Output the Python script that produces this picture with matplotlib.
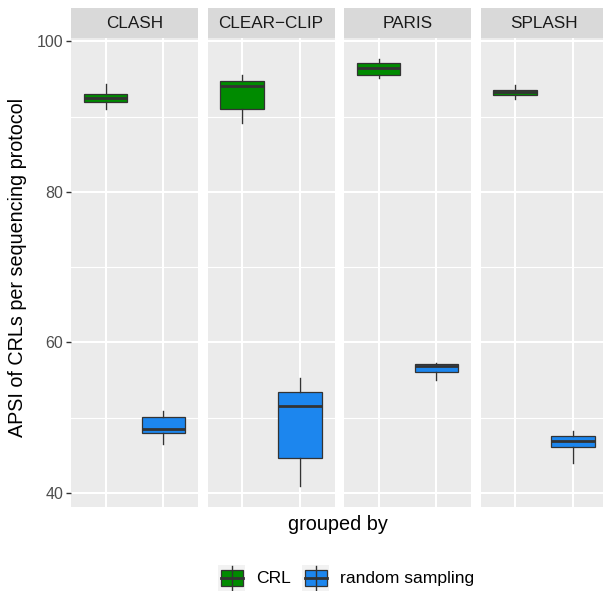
import numpy as np
import matplotlib
matplotlib.use("Agg")
import matplotlib.pyplot as plt
from matplotlib.patches import Rectangle

plt.rcParams['font.family'] = ['Liberation Sans', 'DejaVu Sans']

# facets and groups
protocols = ["CLASH", "CLEAR\u2212CLIP", "PARIS", "SPLASH"]
groups = ["CRL", "random sampling"]
colors = {"CRL": "#008B00", "random sampling": "#1C86EE"}

# boxplot stats: (whislo, q1, median, q3, whishi)
crl_stats = [
    (91.0, 91.94, 92.47, 92.96, 94.29),
    (89.16, 91.01, 94.03, 94.78, 95.49),
    (95.13, 95.58, 96.46, 97.17, 97.61),
    (92.34, 92.87, 93.23, 93.5, 94.16),
]
random_stats = [
    (46.54, 47.92, 48.54, 50.04, 50.88),
    (40.97, 44.69, 51.59, 53.36, 55.26),
    (55.04, 56.02, 56.9, 57.08, 57.25),
    (44.02, 46.14, 46.94, 47.53, 48.23),
]

W, H = 603, 591
fig = plt.figure(figsize=(W / 100, H / 100), dpi=100)

def fpos(x0, y0, w, h):
    # pixel box -> figure fraction
    return [x0 / W, 1 - (y0 + h) / H, w / W, h / H]

all_vals = np.array(crl_stats + random_stats)
lo, hi = all_vals.min(), all_vals.max()
pad = (hi - lo) * 0.05
ylim = (lo - pad, hi + pad)

panel_left = [71, 207.5, 344, 480.5]
panel_w = 127
panel_top, panel_bot = 38, 507
strip_top = 8

for i, name in enumerate(protocols):
    ax = fig.add_axes(fpos(panel_left[i], panel_top, panel_w, panel_bot - panel_top))
    ax.set_facecolor("#EBEBEB")
    for s in ax.spines.values():
        s.set_visible(False)
    ax.set_xlim(0.4, 2.6)
    ax.set_ylim(*ylim)
    ax.set_yticks([40, 60, 80, 100])
    ax.set_yticks([50, 70, 90], minor=True)
    ax.set_xticks([1, 2])
    ax.grid(True, which="major", color="white", lw=1.5)
    ax.grid(True, which="minor", axis="y", color="white", lw=0.8)
    ax.set_axisbelow(True)
    ax.tick_params(axis="x", length=0, labelbottom=False)
    ax.tick_params(axis="y", which="minor", length=0)
    if i == 0:
        ax.tick_params(axis="y", length=3.5, width=1, color="#333333",
                       labelsize=11.5, labelcolor="#4D4D4D", pad=2)
    else:
        ax.tick_params(axis="y", length=0, labelleft=False)

    for j, (g, st) in enumerate(zip(groups, [crl_stats[i], random_stats[i]])):
        whislo, q1, med, q3, whishi = st
        stats = [dict(whislo=whislo, q1=q1, med=med, q3=q3, whishi=whishi, fliers=[])]
        ax.bxp(stats, positions=[j + 1], widths=0.75, patch_artist=True,
               showcaps=False, manage_ticks=False,
               boxprops=dict(facecolor=colors[g], edgecolor="#333333", lw=0.9),
               medianprops=dict(color="#333333", lw=2),
               whiskerprops=dict(color="#333333", lw=1))

    sax = fig.add_axes(fpos(panel_left[i], strip_top, panel_w, panel_top - strip_top))
    sax.set_facecolor("#D9D9D9")
    sax.set_xticks([])
    sax.set_yticks([])
    for s in sax.spines.values():
        s.set_visible(False)
    sax.text(0.5, 0.5, name, ha="center", va="center", fontsize=12.3,
             color="#1A1A1A", transform=sax.transAxes)

fig.text(18 / W, 1 - 267 / H, "APSI of CRLs per sequencing protocol",
         rotation=90, ha="center", va="center", fontsize=14.2, color="black")
fig.text(338 / W, 1 - 524 / H, "grouped by", ha="center", va="center",
         fontsize=14.3, color="black")

# legend drawn in its own axes
lax = fig.add_axes([0, 0, 1, 1], facecolor="none")
lax.set_xlim(0, W)
lax.set_ylim(H, 0)
lax.axis("off")
legend_x = [218, 302]
for g, kx in zip(groups, legend_x):
    lax.add_patch(Rectangle((kx, 565), 27, 26, facecolor="#F2F2F2", edgecolor="none"))
    lax.plot([kx + 13.5, kx + 13.5], [566, 590], color="#333333", lw=1)
    lax.add_patch(Rectangle((kx + 2.5, 570), 22, 16, facecolor=colors[g],
                            edgecolor="#333333", lw=0.9))
    lax.plot([kx + 2.5, kx + 24.5], [578, 578], color="#333333", lw=2)
    lax.text(kx + 38, 578.5, g, ha="left", va="center", fontsize=12.6, color="black")

fig.savefig("out.png", dpi=100)
